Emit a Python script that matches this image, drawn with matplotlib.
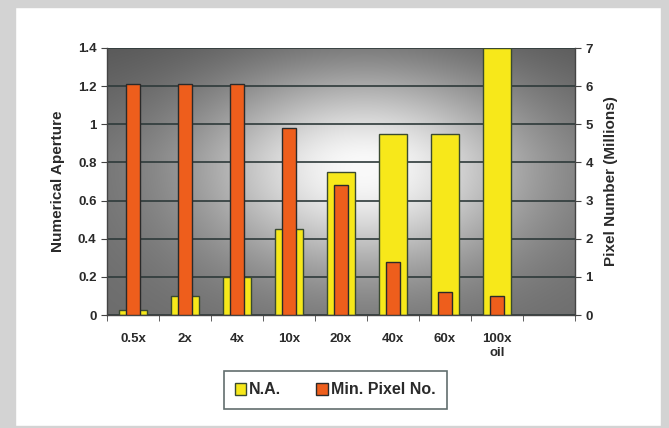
import numpy as np
import matplotlib
matplotlib.use("Agg")
import matplotlib.pyplot as plt
from matplotlib.patches import Rectangle, Patch

plt.rcParams["font.family"] = ["Liberation Sans", "DejaVu Sans"]
plt.rcParams["font.weight"] = "bold"

categories = ["0.5x", "2x", "4x", "10x", "20x", "40x", "60x", "100x\noil", ""]
numerical_aperture = [0.025, 0.1, 0.2, 0.45, 0.75, 0.95, 0.95, 1.4]
min_pixel_millions = [6.05, 6.05, 6.05, 4.9, 3.4, 1.4, 0.6, 0.5]

W, H = 669, 428
fig = plt.figure(figsize=(W / 100, H / 100), dpi=100)
fig.patch.set_facecolor("white")

# grey frame around the picture
frame = "#d3d3d3"
fig.add_artist(Rectangle((0, 0), 15 / W, 1, transform=fig.transFigure, color=frame, zorder=0))
fig.add_artist(Rectangle((0, 1 - 7 / H), 1, 7 / H, transform=fig.transFigure, color=frame, zorder=0))
fig.add_artist(Rectangle((1 - 8 / W, 0), 8 / W, 1, transform=fig.transFigure, color=frame, zorder=0))
fig.add_artist(Rectangle((0, 0), 1, 2 / H, transform=fig.transFigure, color=frame, zorder=0))

left, right, top, bottom = 107, 575, 48, 315
ax = fig.add_axes([left / W, 1 - bottom / H, (right - left) / W, (bottom - top) / H])
ax2 = ax.twinx()

n = len(categories)
x = np.arange(len(numerical_aperture))

# radial grey gradient background
u = np.linspace(0, 1, 300)
v = np.linspace(0, 1, 200)
U, V = np.meshgrid(u, v)
r2 = ((U - 0.55) / 0.45) ** 2 + ((V - 0.55) / 0.5) ** 2
g = 0.42 + 0.56 * np.exp(-1.6 * r2)
g = np.clip(g - 0.08 * np.clip(V - 0.6, 0, 1) / 0.4, 0, 1)
ax.imshow(np.dstack([g, g, g]), extent=(-0.5, n - 0.5, 0, 1.4), origin="lower",
          aspect="auto", zorder=0, interpolation="bilinear")

ax.set_xlim(-0.5, n - 0.5)
ax.set_ylim(0, 1.4)
ax2.set_ylim(0, 7)

ax.set_axisbelow(True)
ax.yaxis.grid(True, color="#2e3a3a", linewidth=1.2)
ax.bar(x, numerical_aperture, width=0.52, color="#f7e81a", edgecolor="#3a4a30",
       linewidth=1.0, zorder=2)
ax2.bar(x, min_pixel_millions, width=0.26, color="#ee5e1c", edgecolor="#2a2a2a",
        linewidth=1.0, zorder=3)

ax.set_yticks(np.arange(0, 1.41, 0.2))
ax.set_yticklabels(["0", "0.2", "0.4", "0.6", "0.8", "1", "1.2", "1.4"])
ax2.set_yticks(range(0, 8))

ax.set_xticks(np.arange(n))
ax.set_xticklabels(categories)
ax.set_xticks(np.arange(-0.5, n), minor=True)
ax.tick_params(axis="x", which="major", length=0, pad=13)
ax.tick_params(axis="x", which="minor", length=4, color="#444444")
ax.tick_params(axis="y", length=4, color="#444444")
ax2.tick_params(axis="y", length=4, color="#444444")

for a in (ax, ax2):
    for s in a.spines.values():
        s.set_visible(False)
    for lab in a.get_xticklabels() + a.get_yticklabels():
        lab.set_fontsize(9.5)
        lab.set_fontweight("bold")
        lab.set_color("#2a2a2a")
ax.spines["left"].set_visible(True)
ax.spines["bottom"].set_visible(True)
ax2.spines["right"].set_visible(True)
for s in (ax.spines["left"], ax.spines["bottom"], ax2.spines["right"]):
    s.set_color("#444444")
    s.set_linewidth(1.0)

ax.set_ylabel("Numerical Aperture", fontsize=11, fontweight="bold", color="#2a2a2a", labelpad=9)
ax2.set_ylabel("Pixel Number (Millions)", fontsize=11, fontweight="bold", color="#2a2a2a",
               labelpad=8)

handles = [Patch(facecolor="#f7e81a", edgecolor="#3a4a30", label="N.A."),
           Patch(facecolor="#ee5e1c", edgecolor="#2a2a2a", label="Min. Pixel No.")]
leg = fig.legend(handles=handles, loc="center", bbox_to_anchor=(335 / W, 1 - 390 / H),
                 ncol=2, fancybox=False, frameon=True, fontsize=11.5, handlelength=0.7,
                 handleheight=0.7, handletextpad=0.2, columnspacing=2.2, borderpad=0.7)
leg.get_frame().set_edgecolor("#3a4a4a")
leg.get_frame().set_linewidth(1.2)
for t in leg.get_texts():
    t.set_fontweight("bold")
    t.set_color("#2a2a2a")

fig.savefig("out.png", dpi=100)
